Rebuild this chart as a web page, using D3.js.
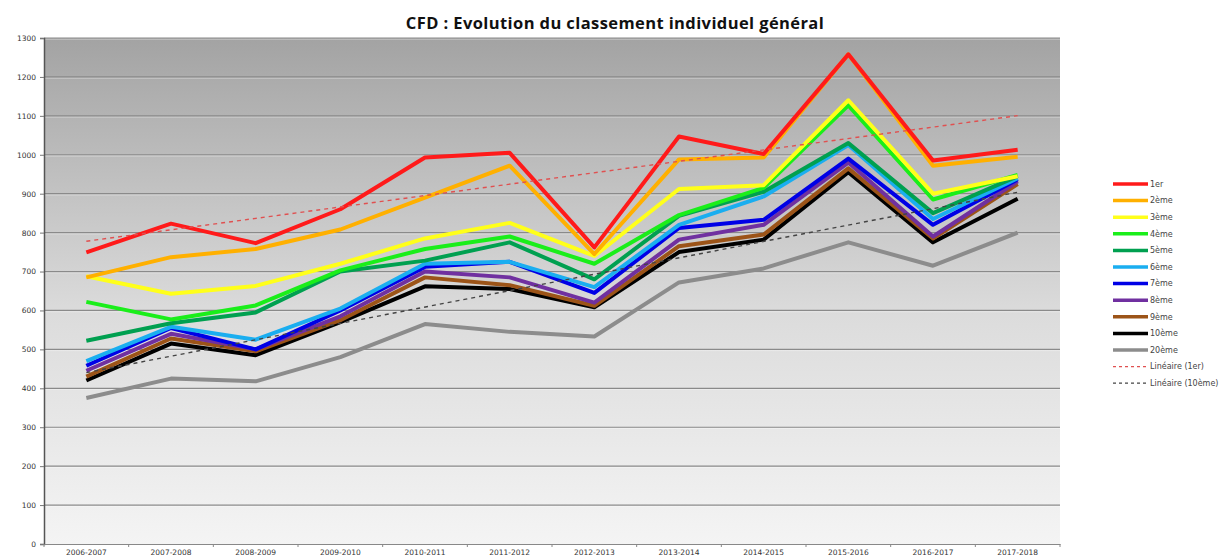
<!DOCTYPE html>
<html>
<head>
<meta charset="utf-8">
<script src="https://cdn.jsdelivr.net/npm/d3@7"></script>
<style>
  body { margin: 0; background: #fff; }
  svg { display: block; }
</style>
</head>
<body>
<div id="chart"></div>
<script>
// Data
const seasons = ['2006-2007', '2007-2008', '2008-2009', '2009-2010', '2010-2011', '2011-2012',
                 '2012-2013', '2013-2014', '2014-2015', '2015-2016', '2016-2017', '2017-2018'];
const rank1  = [749, 823, 773, 860, 993, 1005, 762, 1047, 1002, 1258, 985, 1013];
const rank2  = [685, 737, 758, 808, 890, 972, 745, 988, 993, 1258, 972, 995];
const rank3  = [688, 643, 663, 720, 785, 825, 740, 912, 922, 1140, 900, 945];
const rank4  = [622, 577, 613, 703, 758, 790, 720, 845, 915, 1127, 885, 948];
const rank5  = [522, 567, 595, 700, 728, 775, 680, 843, 905, 1030, 850, 945];
const rank6  = [470, 558, 525, 605, 720, 725, 660, 820, 893, 1025, 835, 940];
const rank7  = [458, 555, 500, 600, 712, 725, 645, 812, 833, 990, 820, 937];
const rank8  = [445, 540, 500, 585, 700, 685, 620, 782, 820, 980, 790, 932];
const rank9  = [430, 528, 495, 575, 685, 665, 612, 765, 795, 965, 785, 925];
const rank10 = [420, 515, 485, 570, 662, 655, 608, 750, 782, 955, 775, 887];
const rank20 = [375, 425, 418, 480, 565, 545, 533, 672, 708, 775, 715, 800];
const yTicks = [0, 100, 200, 300, 400, 500, 600, 700, 800, 900, 1000, 1100, 1200, 1300];

const series = [
  { name: '1er',   values: rank1,  color: '#ff1a1a' },
  { name: '2ème',  values: rank2,  color: '#ffb000' },
  { name: '3ème',  values: rank3,  color: '#ffff1a' },
  { name: '4ème',  values: rank4,  color: '#1aee1a' },
  { name: '5ème',  values: rank5,  color: '#00a050' },
  { name: '6ème',  values: rank6,  color: '#1aaef0' },
  { name: '7ème',  values: rank7,  color: '#0000e6' },
  { name: '8ème',  values: rank8,  color: '#7030a0' },
  { name: '9ème',  values: rank9,  color: '#9c5418' },
  { name: '10ème', values: rank10, color: '#000000' },
  { name: '20ème', values: rank20, color: '#8c8c8c' }
];

// Linear trend (least squares) for a series
function linearFit(values) {
  const n = values.length;
  const xm = (n - 1) / 2;
  const ym = d3.mean(values);
  let num = 0, den = 0;
  values.forEach((v, i) => { num += (i - xm) * (v - ym); den += (i - xm) * (i - xm); });
  const slope = num / den;
  return [ym - slope * xm, ym + slope * (n - 1 - xm)];
}

const svgWidth = 1226;
const svgHeight = 557;
const margin = { top: 38, right: 166, bottom: 13, left: 44 };
const width = svgWidth - margin.left - margin.right;
const height = svgHeight - margin.top - margin.bottom;

const root = d3.select('#chart').append('svg')
  .attr('width', svgWidth)
  .attr('height', svgHeight);

// background gradient of the plot area
const grad = root.append('defs').append('linearGradient')
  .attr('id', 'bg').attr('x1', 0).attr('y1', 0).attr('x2', 0).attr('y2', 1);
grad.append('stop').attr('offset', '0%').attr('stop-color', '#a3a3a3');
grad.append('stop').attr('offset', '55%').attr('stop-color', '#dcdcdc');
grad.append('stop').attr('offset', '100%').attr('stop-color', '#f4f4f4');

const svg = root.append('g')
  .attr('transform', `translate(${margin.left},${margin.top})`);

svg.append('rect')
  .attr('width', width)
  .attr('height', height)
  .attr('fill', 'url(#bg)');

const xBand = d3.scaleBand().domain(seasons).range([0, width]);
const x = d => xBand(d) + xBand.bandwidth() / 2;
const y = d3.scaleLinear().domain([0, 1300]).range([height, 0]);

// gridlines
svg.append('g')
  .selectAll('line')
  .data(yTicks.filter(t => t > 0))
  .enter()
  .append('line')
  .attr('x1', 0)
  .attr('x2', width)
  .attr('y1', d => y(d))
  .attr('y2', d => y(d))
  .attr('stroke', '#8a8a8a')
  .attr('stroke-width', 1.2);
svg.append('g')
  .selectAll('line')
  .data(yTicks.filter(t => t > 0))
  .enter()
  .append('line')
  .attr('x1', 0)
  .attr('x2', width)
  .attr('y1', d => y(d) + 1.3)
  .attr('y2', d => y(d) + 1.3)
  .attr('stroke', '#ffffff')
  .attr('stroke-opacity', 0.35);

// axes
const yAxis = svg.append('g')
  .call(d3.axisLeft(y).tickValues(yTicks).tickFormat(d3.format('d')).tickSize(4).tickPadding(4));
yAxis.select('.domain').attr('stroke', '#555').attr('stroke-width', 1.5);
yAxis.selectAll('line').attr('stroke', '#777');
yAxis.selectAll('text')
  .style('font-family', '"DejaVu Sans", sans-serif')
  .style('font-size', '7.5px')
  .attr('fill', '#333');

const xAxis = svg.append('g')
  .attr('transform', `translate(0,${height})`)
  .call(d3.axisBottom(xBand).tickSize(0).tickPadding(6));
xAxis.select('.domain').attr('stroke', '#888');
xAxis.selectAll('text')
  .style('font-family', '"DejaVu Sans", sans-serif')
  .style('font-size', '7.5px')
  .attr('fill', '#333');
// tick marks between categories
svg.append('g')
  .selectAll('line')
  .data(seasons.concat(['end']))
  .enter()
  .append('line')
  .attr('x1', (d, i) => i * xBand.bandwidth())
  .attr('x2', (d, i) => i * xBand.bandwidth())
  .attr('y1', height)
  .attr('y2', height + 3)
  .attr('stroke', '#888');

// series lines
const line = d3.line()
  .x((d, i) => x(seasons[i]))
  .y(d => y(d));

svg.selectAll('.series')
  .data(series.slice().reverse())
  .enter()
  .append('path')
  .attr('class', 'series')
  .attr('d', d => line(d.values))
  .attr('fill', 'none')
  .attr('stroke', d => d.color)
  .attr('stroke-width', 4)
  .attr('stroke-linejoin', 'round');

// trend lines
const trends = [
  { name: 'Linéaire (1er)',   ends: linearFit(rank1),  color: '#e05050' },
  { name: 'Linéaire (10ème)', ends: linearFit(rank10), color: '#444444' }
];
svg.selectAll('.trend')
  .data(trends)
  .enter()
  .append('line')
  .attr('class', 'trend')
  .attr('x1', x(seasons[0]))
  .attr('x2', x(seasons[seasons.length - 1]))
  .attr('y1', d => y(d.ends[0]))
  .attr('y2', d => y(d.ends[1]))
  .attr('stroke', d => d.color)
  .attr('stroke-width', 1.4)
  .attr('stroke-dasharray', '4,4');

// title
root.append('text')
  .attr('x', 615)
  .attr('y', 29)
  .attr('text-anchor', 'middle')
  .style('font-family', '"Open Sans", sans-serif')
  .style('font-weight', 'bold')
  .style('font-size', '16.5px')
  .style('letter-spacing', '0.4px')
  .attr('fill', '#111')
  .text('CFD : Evolution du classement individuel général');

// legend
const legendItems = series.map(s => ({ name: s.name, color: s.color, dashed: false }))
  .concat(trends.map(t => ({ name: t.name, color: t.color, dashed: true })));
const legend = root.append('g')
  .attr('transform', 'translate(1113,184)');
const item = legend.selectAll('g')
  .data(legendItems)
  .enter()
  .append('g')
  .attr('transform', (d, i) => `translate(0,${i * 16.6})`);
item.append('line')
  .attr('x1', 0)
  .attr('x2', 35)
  .attr('stroke', d => d.color)
  .attr('stroke-width', d => d.dashed ? 1.2 : 3.5)
  .attr('stroke-dasharray', d => d.dashed ? '3,3' : null);
item.append('text')
  .attr('x', 37)
  .attr('dy', '0.35em')
  .style('font-family', '"DejaVu Sans", sans-serif')
  .style('font-size', '8px')
  .attr('fill', '#444')
  .text(d => d.name);
</script>
</body>
</html>
